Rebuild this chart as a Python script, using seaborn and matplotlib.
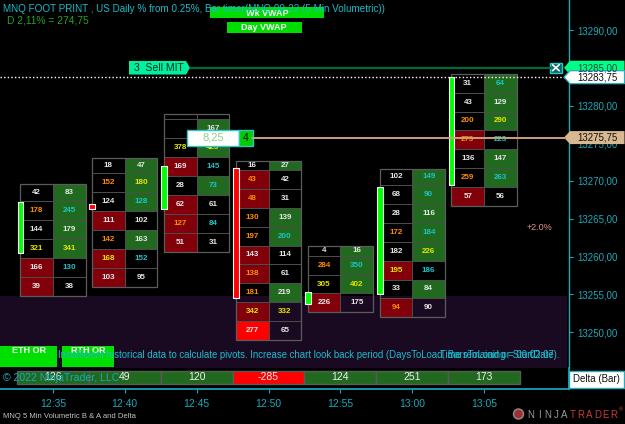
import numpy as np
import pandas as pd
import matplotlib
matplotlib.use("Agg")
import matplotlib.pyplot as plt
import seaborn as sns
from matplotlib.patches import Rectangle, Polygon, Circle

# ---------------- data ----------------
times = ["12:35", "12:40", "12:45", "12:50", "12:55", "13:00", "13:05"]

bid_vols = [
    [42, 178, 144, 321, 166, 39],
    [18, 152, 124, 111, 142, 168, 103],
    [None, None, 378, 169, 28, 62, 127, 51],
    [16, 43, 48, 130, 197, 143, 138, 181, 342, 277],
    [4, 284, 305, 226],
    [102, 68, 28, 172, 182, 195, 33, 94],
    [31, 43, 200, 273, 136, 259, 57],
]
ask_vols = [
    [83, 245, 179, 341, 130, 38],
    [47, 180, 128, 102, 163, 152, 95],
    [None, 167, 425, 145, 73, 61, 84, 31],
    [27, 42, 31, 139, 200, 114, 61, 219, 332, 65],
    [16, 350, 402, 175],
    [149, 90, 116, 184, 226, 186, 84, 90],
    [64, 129, 290, 223, 147, 263, 56],
]
# text colour codes: w white, o orange, c cyan, y yellow
bid_text = ["wowyww", "wowwoyw", "wwywwwow", "woooowooyw", "woyw", "wwwowywo", "wwoowow"]
ask_text = ["wcwycw", "wycwwcw", "wwyccwcw", "wwwwcwwwyw", "wcyw", "ccwcycww", "cwycwcw"]

bar_low = [13254.8, 13256.0, 13260.65, 13248.95, 13252.6, 13251.95, 13266.7]
top_row = [2.3, 2.1, 0.75, 1.15, 1.3, 2.2, 2.5]
row_step = 2.5

open_px = [13260.5, 13267.0, 13266.25, 13271.75, 13253.75, 13255.0, 13269.5]
close_px = [13267.25, 13266.25, 13272.0, 13254.5, 13255.25, 13269.25, 13283.75]

deltas = [126, 49, 120, -285, 124, 251, 173]

price_ticks = [13250, 13255, 13260, 13265, 13270, 13275, 13280, 13285, 13290]
last_price = 13283.75
order_price = 13285.0
position_price = 13275.75
range_top = 13254.75

# ---------------- style ----------------
sns.set_theme(style="ticks", rc={"axes.facecolor": "black", "figure.facecolor": "black",
                                 "axes.grid": False})
plt.rcParams["font.family"] = ["Liberation Sans", "DejaVu Sans"]

TEAL = "#17aabb"
CYAN = "#19bccc"
GREEN = "#21691f"
RED = "#82000a"
BRED = "#ff0000"
GRID = "#4e4e4e"
TXT = {"w": "#e6e6e6", "o": "#ff8a00", "c": "#1cc4c8", "y": "#e8e400"}

W, H = 625, 424
fig = plt.figure(figsize=(W / 100, H / 100), dpi=100)

px_unit = 71.9
x0 = -52.8 / px_unit
x1 = (569 - 52.8) / px_unit

ax = fig.add_axes([0, 56 / H, 569 / W, 368 / H])
ax.set_xlim(x0, x1)
ax.set_ylim(13290 - 338 / 7.55, 13290 + 30 / 7.55)
ax.set_facecolor("black")

axd = fig.add_axes([0, 35 / H, 569 / W, 21 / H])
axd.set_facecolor("black")

# purple range zone
ax.add_patch(Rectangle((x0, ax.get_ylim()[0]), 566.7 / px_unit, range_top - ax.get_ylim()[0],
                       facecolor="#190a22", edgecolor="none", zorder=0.5))

HALF = 32.75 / px_unit
for i in range(len(times)):
    bids, asks = bid_vols[i], ask_vols[i]
    n = len(bids)
    low = bar_low[i]
    edges = [low + k * row_step for k in range(n)] + [low + (n - 1) * row_step + top_row[i]]
    for r in range(n):
        top = edges[n - r]
        bot = edges[n - 1 - r]
        b = bids[r] or 0
        a = asks[r] or 0
        if a > b:
            ax.add_patch(Rectangle((i, bot), HALF, top - bot, facecolor=GREEN, edgecolor="none", zorder=2))
        elif b > a:
            col = BRED if (a > 0 and b > 4.2 * a) else RED
            ax.add_patch(Rectangle((i - HALF, bot), HALF, top - bot, facecolor=col, edgecolor="none", zorder=2))
        mid = (top + bot) / 2
        if bids[r] is not None:
            ax.text(i - HALF / 2, mid, str(bids[r]), color=TXT[bid_text[i][r]], ha="center", va="center",
                    fontsize=5.8, fontweight="bold", zorder=4)
        if asks[r] is not None:
            ax.text(i + HALF / 2, mid, str(asks[r]), color=TXT[ask_text[i][r]], ha="center", va="center",
                    fontsize=5.8, fontweight="bold", zorder=4)
    ax.hlines(edges[1:-1], i - HALF, i + HALF, colors=GRID, lw=0.7, zorder=3)
    ax.vlines([i], edges[0], edges[-1], colors=GRID, lw=0.7, zorder=3)
    ax.add_patch(Rectangle((i - HALF, edges[0]), 2 * HALF, edges[-1] - edges[0], fill=False,
                           edgecolor="#5c5c5c", lw=0.9, zorder=3))

# candle bodies
for i in range(len(times)):
    lo = min(open_px[i], close_px[i])
    hgt = abs(close_px[i] - open_px[i])
    col = "#00ff00" if close_px[i] >= open_px[i] else "#ff0000"
    ax.bar(i - 0.4525, hgt, bottom=lo, width=0.0765, color=col, edgecolor="white", lw=0.8, zorder=5)

# last price dotted line
ax.axhline(last_price, color="white", lw=1.0, ls=(0, (1, 1.6)), zorder=6)

ax.set_xticks([])
ax.set_yticks(price_ticks)
ax.set_yticklabels([f"{v:.2f}".replace(".", ",") for v in price_ticks])
ax.yaxis.tick_right()
ax.tick_params(axis="y", colors=TEAL, labelcolor=TEAL, length=2.9, width=0.8, pad=2.9, labelsize=7)
for s in ["top", "left", "bottom"]:
    ax.spines[s].set_visible(False)
ax.spines["right"].set_color(TEAL)
ax.spines["right"].set_linewidth(1.0)

# delta panel via seaborn
ddf = pd.DataFrame({"pos": np.arange(len(times)), "one": 1.0, "time": times, "delta": deltas})
pal = {t: (BRED if d < 0 else GREEN) for t, d in zip(times, deltas)}
sns.barplot(data=ddf, x="pos", y="one", hue="time", palette=pal, native_scale=True, width=1.0,
            dodge=False, legend=False, errorbar=None, edgecolor="#5a5a5a", linewidth=1.0,
            saturation=1, ax=axd)
for i, d in enumerate(deltas):
    axd.text(i, 0.5, str(d), color="#f0f0f0", ha="center", va="center", fontsize=7.5, zorder=5)
axd.set_xlim(x0, x1)
axd.set_ylim(-5 / 13.3, 1 + 2.7 / 13.3)
axd.set_xlabel("")
axd.set_ylabel("")
axd.set_yticks([])
axd.set_xticks(range(len(times)))
axd.set_xticklabels(times)
axd.tick_params(axis="x", colors=TEAL, labelcolor=TEAL, length=2.9, width=0.8, pad=4, labelsize=7.5)
axd.spines["top"].set_visible(False)
axd.spines["left"].set_visible(False)
axd.spines["right"].set_color(TEAL)
axd.spines["bottom"].set_color(TEAL)

# ---------------- overlay (pixel space) ----------------
ov = fig.add_axes([0, 0, 1, 1], zorder=10)
ov.set_xlim(0, W)
ov.set_ylim(H, 0)
ov.axis("off")
ov.patch.set_alpha(0)


def py(p):
    return H - ax.transData.transform((0, p))[1]


# VWAP boxes
ov.add_patch(Rectangle((210, 7.3), 114, 11, facecolor="#00dd00", edgecolor="none"))
ov.text(267, 13, "Wk VWAP", color="white", fontsize=6.5, fontweight="bold", ha="center", va="center")
ov.add_patch(Rectangle((226.7, 21.7), 75, 11.6, facecolor="#00dd00", edgecolor="none"))
ov.text(264, 27.5, "Day VWAP", color="white", fontsize=6.5, fontweight="bold", ha="center", va="center")

ov.text(3, 9.5, "MNQ FOOT PRINT , US Daily % from 0.25%, Bar timer(MNQ 09-22 (5 Min Volumetric))",
        color=CYAN, fontsize=7.1, ha="left", va="center")
ov.text(7, 20.5, "D 2,11% = 274,75", color="#23a323", fontsize=7.4, ha="left", va="center")

# sell MIT order line
yo = py(order_price)
ov.plot([190, 551], [yo, yo], color="#006a35", lw=1.6, solid_capstyle="butt")
ov.add_patch(Polygon([[129, yo - 6.8], [186, yo - 6.8], [190, yo], [186, yo + 6.8], [129, yo + 6.8]],
                     closed=True, facecolor="#00f0a0", edgecolor="none"))
ov.text(134, yo + 0.3, "3  Sell MIT", color="#062a1a", fontsize=7.5, ha="left", va="center")
ov.add_patch(Rectangle((550, yo - 5), 11.7, 10, facecolor="#0b6a6a", edgecolor="#28c8c8", lw=1))
ov.plot([552.5, 559.2], [yo - 3, yo + 3], color="white", lw=1.2)
ov.plot([552.5, 559.2], [yo + 3, yo - 3], color="white", lw=1.2)

# position line and label
yp = py(position_price)
ov.plot([252, 566], [yp, yp], color="#c8a27c", lw=1.4)
ov.add_patch(Rectangle((187.3, yp - 8), 51.5, 16, facecolor="white", edgecolor="#30c4c4", lw=1))
ov.text(213, yp, "8,25", color="#8ad08a", fontsize=8, ha="center", va="center")
ov.add_patch(Rectangle((238.8, yp - 8), 14, 16, facecolor="#00cc00", edgecolor="#30c4c4", lw=1))
ov.text(245.8, yp, "4", color="#101010", fontsize=7.5, ha="center", va="center")


def price_label(p, fc, tc, ec=None, hh=6.5):
    y = py(p)
    ov.add_patch(Polygon([[564, y], [570, y - hh], [624.5, y - hh], [624.5, y + hh], [570, y + hh]],
                         closed=True, facecolor=fc, edgecolor=ec if ec else "none", lw=0.9))
    ov.text(577, y + 0.3, f"{p:.2f}".replace(".", ","), color=tc, fontsize=7, ha="left", va="center")


price_label(order_price, "#00ff88", "#0b4a3a", hh=7)
price_label(last_price, "white", "#101010", ec="#22b0c0")
price_label(position_price, "#d8b890", "#101010")

ov.text(527, 228, "+2.0%", color="#e89090", fontsize=6.5, ha="left", va="center")

# OR boxes and messages
ov.add_patch(Rectangle((0, 346), 57.3, 21.3, facecolor="#00e000", edgecolor="none"))
ov.text(28.6, 350.3, "ETH OR", color="white", fontsize=6.5, fontweight="bold", ha="center", va="center")
ov.add_patch(Rectangle((62.3, 346), 52, 21.3, facecolor="#00e000", edgecolor="none"))
ov.text(88.3, 350.3, "RTH OR", color="white", fontsize=6.5, fontweight="bold", ha="center", va="center")

msg = ov.text(58, 355.5, "Insufficient historical data to calculate pivots. Increase chart look back period "
              "(DaysToLoad, BarsToLoad or StartDate).", color=CYAN, fontsize=6.9, ha="left", va="center")
msg.set_clip_box(ax.bbox)
msg.set_clip_on(True)
ov.text(440, 355.5, "Time remaining = 00:02:07", color=CYAN, fontsize=6.9, ha="left", va="center")

ov.text(3, 378, "\u00a9 2022 NinjaTrader, LLC", color=TEAL, fontsize=7.6, ha="left", va="center")

ov.add_patch(Rectangle((568.5, 370.5), 55.5, 17, facecolor="white", edgecolor="#22b0c0", lw=1))
ov.text(596, 379, "Delta (Bar)", color="#101010", fontsize=7, ha="center", va="center")

ov.text(3, 417, "MNQ 5 Min Volumetric B & A and Delta", color="#c4c4c4", fontsize=5.5, ha="left", va="center")

# logo
ov.add_patch(Circle((518.5, 414), 5, facecolor="#a03030", edgecolor="#909090", lw=1))
letters = "NINJATRADER"
for k, ch in enumerate(letters):
    ov.text(531 + k * 8.3, 414.5, ch, color="#9a9a9a" if k < 5 else "#c83a3a", fontsize=7,
            ha="center", va="center")
ov.text(621, 410, "\u00ae", color="#c83a3a", fontsize=4, ha="center", va="center")

fig.savefig("out.png", dpi=100, facecolor="black")
